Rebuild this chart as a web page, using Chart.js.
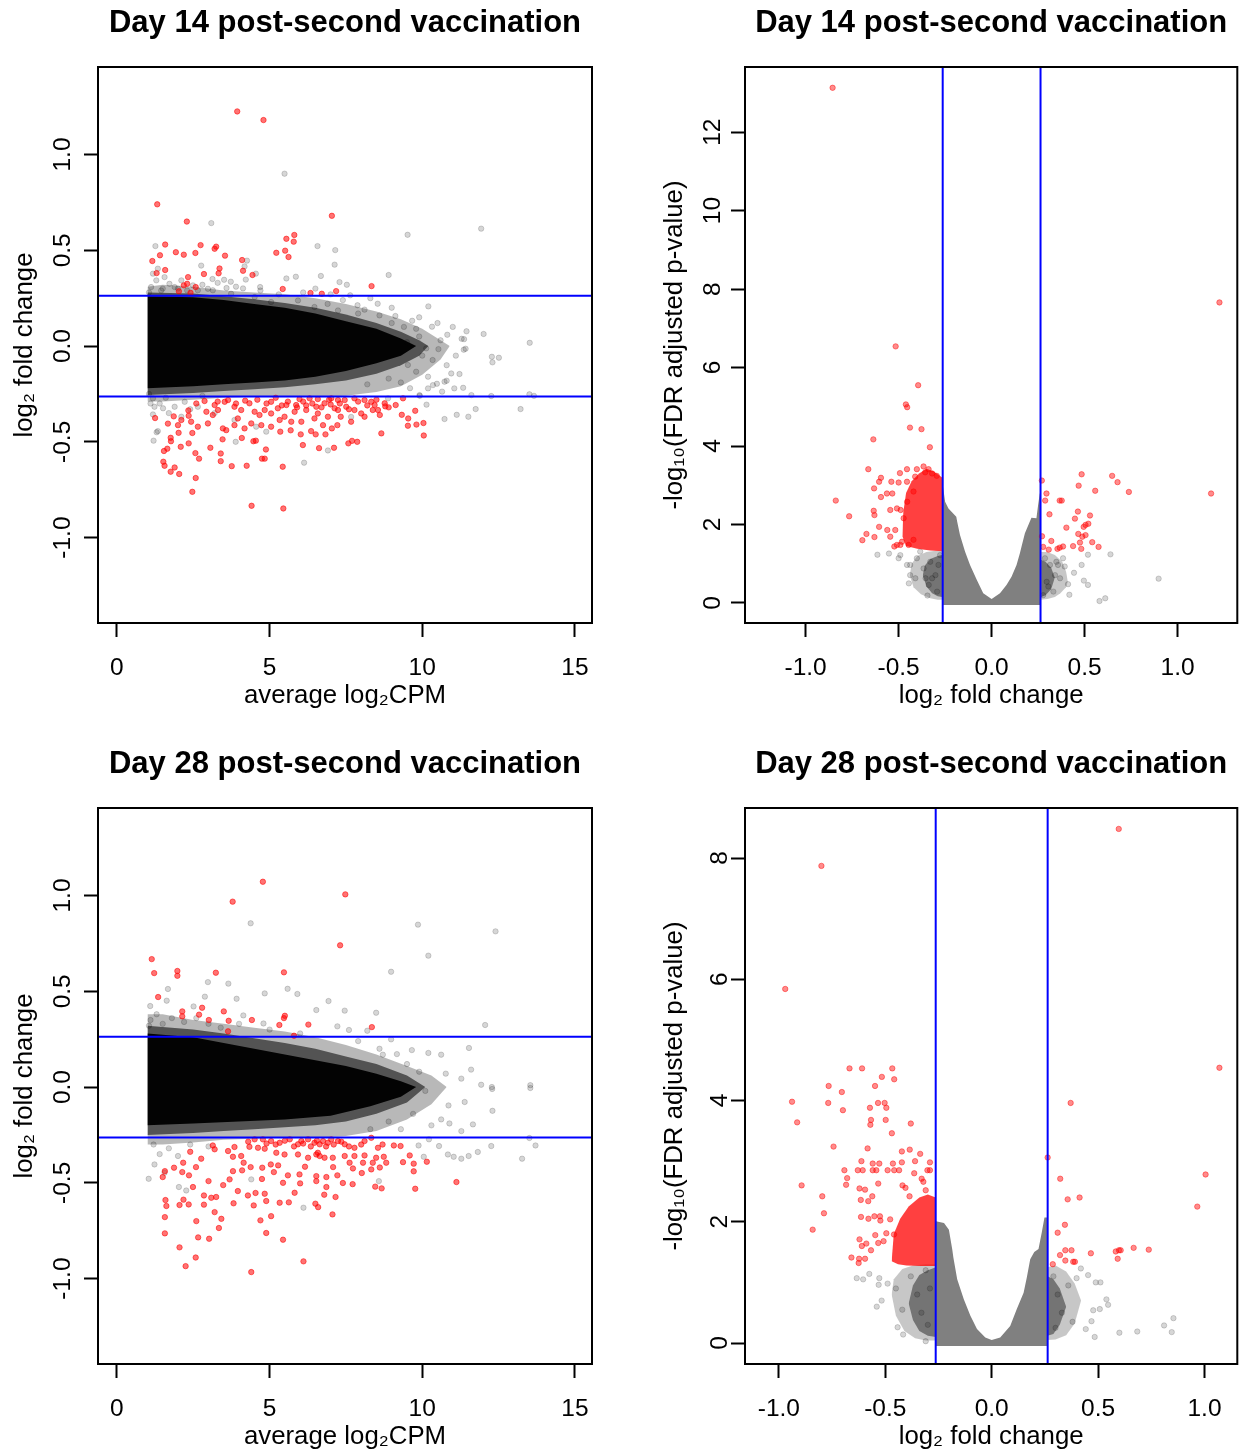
<!DOCTYPE html>
<html><head><meta charset="utf-8">
<script src="https://cdn.jsdelivr.net/npm/chart.js@4.4.0/dist/chart.umd.min.js"></script>
<style>
html,body{margin:0;padding:0;background:#fff;}
body{width:1241px;height:1453px;position:relative;overflow:hidden;}
canvas{position:absolute;}
</style></head>
<body>
<canvas id="c1" width="620" height="741" style="left:0;top:0"></canvas>
<canvas id="c2" width="621" height="741" style="left:620px;top:0"></canvas>
<canvas id="c3" width="620" height="712" style="left:0;top:741px"></canvas>
<canvas id="c4" width="621" height="712" style="left:620px;top:741px"></canvas>
<script>
// ---------- titles, ticks, thresholds ----------
const titleDay14 = 'Day 14 post-second vaccination';
const titleDay28 = 'Day 28 post-second vaccination';
const maXLabel = 'average log\u2082CPM';
const fcLabel = 'log\u2082 fold change';
const fdrLabel = '-log\u2081\u2080(FDR adjusted p-value)';
const maXTicks = [0, 5, 10, 15];
const maYTicks = [-1, -0.5, 0, 0.5, 1];
const volXTicks = [-1, -0.5, 0, 0.5, 1];
const d14VolYTicks = [0, 2, 4, 6, 8, 10, 12];
const d28VolYTicks = [0, 2, 4, 6, 8];
const fcThreshold = 0.263;
const maXRange = [-0.62, 15.56];
const maYRange = [-1.446, 1.457];
const d14VolXRange = [-1.326, 1.321];
const d14VolYRange = [-0.51, 13.66];
const d28VolXRange = [-1.159, 1.154];
const d28VolYRange = [-0.346, 8.825];

// ---------- Day 14 MA plot ----------
const d14MaRed = [[3.94,1.225],[4.80,1.18],[1.32,0.74],[2.29,0.65],[7.04,0.68],[1.58,0.53],[1.93,0.49],[2.19,0.477],[2.57,0.486],[2.74,0.527],[3.20,0.508],[3.25,0.519],[3.54,0.472],[1.41,0.474],[1.16,0.444],[1.58,0.397],[1.30,0.381],[2.33,0.36],[2.30,0.325],[2.19,0.317],[2.58,0.308],[2.03,0.286],[2.41,0.278],[2.85,0.376],[3.33,0.38],[3.36,0.405],[4.10,0.449],[4.13,0.393],[4.44,0.371],[5.22,0.487],[5.51,0.498],[5.62,0.465],[5.55,0.56],[5.81,0.58],[5.79,0.545],[5.43,0.298],[6.34,0.277],[6.71,0.273],[7.18,0.287],[8.34,0.313],
[1.25,-0.376],[1.67,-0.405],[1.86,-0.367],[2.35,-0.364],[2.34,-0.336],[2.47,-0.454],[2.02,-0.453],[1.76,-0.479],[1.77,-0.497],[2.09,-0.526],[2.35,-0.508],[1.65,-0.536],[1.54,-0.548],[1.52,-0.604],[1.56,-0.625],[1.89,-0.634],[1.76,-0.656],[2.04,-0.668],[2.57,-0.559],[2.69,-0.588],[2.58,-0.689],[2.47,-0.761],[4.41,-0.834],[5.45,-0.848],[3.06,-0.531],[3.40,-0.561],[3.40,-0.601],[3.76,-0.627],[4.25,-0.625],[4.75,-0.588],[4.84,-0.588],[4.88,-0.54],[4.55,-0.494],[4.47,-0.497],[4.09,-0.48],[3.46,-0.487],[5.43,-0.63],[6.09,-0.517],[6.62,-0.533],[7.11,-0.531],[7.58,-0.508],[7.87,-0.50],[7.70,-0.495],[8.66,-0.456],[10.05,-0.467],[10.04,-0.402],[9.81,-0.41],[9.53,-0.416],[9.77,-0.338],[9.54,-0.378],[9.33,-0.359],[9.37,-0.273],[9.13,-0.308],[8.79,-0.315],[8.61,-0.36],
[8.38,-0.334],[8.33,-0.291],[8.11,-0.282],[8.00,-0.352],[7.78,-0.334],[7.51,-0.317],[7.33,-0.369],[7.22,-0.413],[7.04,-0.43],[6.83,-0.461],[6.51,-0.461],[6.36,-0.444],[6.02,-0.461],[5.69,-0.44],[5.35,-0.447],[5.05,-0.421],[4.73,-0.413],[4.40,-0.404],[4.18,-0.43],[3.85,-0.413],[3.47,-0.43],[3.14,-0.36],[2.98,-0.404],[2.65,-0.421],[3.20,-0.308],[3.53,-0.291],[3.85,-0.317],[4.07,-0.334],[4.51,-0.343],[4.84,-0.334],[5.05,-0.352],[5.33,-0.386],[5.55,-0.308],[5.87,-0.308],[6.20,-0.334],[6.58,-0.352],[6.80,-0.299],[7.13,-0.325],[7.46,-0.282],[7.78,-0.273],[8.44,-0.308],[8.77,-0.299],
[2.87,-0.287],[3.64,-0.282],[4.34,-0.299],[5.05,-0.291],[5.98,-0.277],[6.31,-0.273],[6.58,-0.277],[7.02,-0.273],[7.24,-0.282],[6.53,-0.317],[5.82,-0.343],[5.49,-0.369],[6.04,-0.395],[6.47,-0.378],[6.91,-0.369],[7.67,-0.395],[8.11,-0.369],[8.55,-0.334],[3.58,-0.439],[3.96,-0.378],[2.93,-0.343],[2.43,-0.395],[2.11,-0.386],[2.00,-0.413],[3.31,-0.334],[4.67,-0.36],[5.27,-0.325],[5.71,-0.395],[7.24,-0.334],[6.75,-0.413],
[4.60,-0.28],[4.90,-0.30],[5.20,-0.27],[5.60,-0.29],[5.90,-0.32],[6.10,-0.29],[6.40,-0.30],[6.70,-0.32],[6.95,-0.28],[7.30,-0.30],[7.60,-0.33],[7.90,-0.29],[8.20,-0.31],[8.50,-0.28],[8.90,-0.32],[4.20,-0.285],[3.90,-0.30],[3.30,-0.29],[2.60,-0.30],[6.20,-0.31],[5.40,-0.31],[7.00,-0.305]];
const d14MaGray = [[5.49,0.90],[3.09,0.642],[9.52,0.581],[11.93,0.613],[6.57,0.522],[7.15,0.501],[7.13,0.425],[1.26,0.522],[4.26,0.446],[2.76,0.42],[5.55,0.353],[5.86,0.362],[6.68,0.366],[7.29,0.334],[7.53,0.32],[8.90,0.371],[4.69,0.308],[4.22,0.347],[4.13,0.301],[3.51,0.346],[3.73,0.336],[3.13,0.35],[3.59,0.303],[4.55,0.378],[4.18,0.416],[7.64,0.265],[8.54,0.221],[10.20,0.207],[7.88,0.213],[8.11,0.19],[9.12,0.157],[9.67,0.132],[10.32,0.101],[10.82,0.059],[11.45,0.077],[12.01,0.063],[13.52,0.017],[11.29,0.038],[11.37,0.036],
[1.12,0.308],[1.29,0.343],[1.56,0.36],[1.72,0.325],[1.89,0.308],[2.11,0.343],[2.49,0.317],[2.65,0.291],[2.98,0.299],[3.14,0.291],[1.34,0.404],[1.18,0.378],[3.74,0.273],[4.51,0.256],[5.05,0.23],[5.93,0.238],[6.47,0.204],[7.24,0.186],
[11.36,-0.019],[11.42,-0.014],[12.28,-0.056],[12.51,-0.061],[12.30,-0.085],[11.22,-0.146],[10.80,-0.181],[11.05,-0.221],[11.34,-0.218],[11.61,-0.256],[12.26,-0.261],[13.51,-0.252],[13.66,-0.26],[13.22,-0.329],[11.75,-0.329],[11.51,-0.369],[11.13,-0.359],[10.73,-0.381],[10.14,-0.306],[9.92,-0.26],[10.48,-0.197],[10.65,-0.238],[10.95,-0.143],[10.34,-0.073],
[6.91,-0.545],[6.13,-0.609],[3.89,-0.50],[1.20,-0.494],[1.30,-0.45],
[1.18,-0.273],[1.23,-0.317],[1.34,-0.444],[1.18,-0.357],[1.51,-0.325],[1.89,-0.317],[2.22,-0.291],[2.65,-0.317],[2.11,-0.369],[3.85,-0.386],[4.56,-0.421],[4.89,-0.447],[7.67,-0.37],[8.88,-0.273],
[10.19,-0.16],[10.35,-0.204],[10.73,-0.186],[9.91,-0.256],[10.19,-0.221],[9.80,-0.134],[9.53,-0.099],[10.53,-0.016],[10.13,-0.012],[10.60,0.03],[9.90,0.05],[10.00,-0.05],[9.50,0.02],[9.40,0.10],[9.80,0.09],
[8.60,0.16],[9.00,0.12],[8.20,-0.20],[8.90,-0.17],[9.30,-0.19],[7.90,0.17],[6.90,0.22],[1.05,0.28],[1.45,0.29],[2.30,0.29],[1.05,-0.25],[1.60,-0.27],[2.80,-0.26],
[1.50,0.30],[2.00,0.30],[2.80,0.32],[3.30,0.33],[3.90,0.31],[4.70,0.29],[5.30,0.27],[6.10,0.28],[6.50,0.30],[7.00,0.27],[7.40,0.24],[8.30,0.25],[9.00,0.20],[9.90,0.15],[10.50,0.12],[11.00,0.10],[10.80,-0.10],[11.10,-0.05],[9.60,-0.22],[1.10,-0.30],[1.40,-0.30],[1.70,-0.35],[2.40,-0.33],[3.20,-0.35]];
const d14MaOuterTop = [[1.0,0.31],[1.5,0.32],[2.5,0.31],[3.5,0.29],[4.5,0.28],[5.5,0.27],[6.5,0.25],[7.5,0.22],[8.5,0.18],[9.3,0.14],[10.0,0.09],[10.6,0.03],[10.9,0.0]];
const d14MaOuterBot = [[1.0,-0.29],[1.5,-0.29],[2.5,-0.28],[3.5,-0.27],[4.5,-0.265],[5.5,-0.265],[6.5,-0.265],[7.5,-0.26],[8.5,-0.24],[9.3,-0.21],[10.0,-0.15],[10.6,-0.07],[10.9,0.0]];
const d14MaMidTop = [[1.0,0.28],[2.5,0.275],[3.5,0.26],[4.5,0.245],[5.5,0.225],[6.5,0.2],[7.5,0.165],[8.5,0.12],[9.3,0.075],[9.9,0.03],[10.2,0.0]];
const d14MaMidBot = [[1.0,-0.255],[2.5,-0.245],[3.5,-0.235],[4.5,-0.225],[5.5,-0.215],[6.5,-0.2],[7.5,-0.18],[8.5,-0.145],[9.3,-0.1],[9.9,-0.05],[10.2,0.0]];
const d14MaCoreTop = [[1.0,0.26],[2.5,0.255],[3.5,0.24],[4.5,0.22],[5.5,0.2],[6.5,0.17],[7.5,0.13],[8.5,0.09],[9.3,0.04],[9.8,0.0]];
const d14MaCoreBot = [[1.0,-0.22],[2.5,-0.21],[3.5,-0.2],[4.5,-0.19],[5.5,-0.18],[6.5,-0.16],[7.5,-0.13],[8.5,-0.09],[9.3,-0.05],[9.8,0.0]];

// ---------- Day 28 MA plot ----------
const d28MaRed = [[4.78,1.072],[3.79,0.968],[7.48,1.006],[7.31,0.74],[1.14,0.668],[1.22,0.595],[1.98,0.606],[1.98,0.581],[3.24,0.597],[5.47,0.599],[1.35,0.47],[2.79,0.414],[2.69,0.378],[2.14,0.395],[2.14,0.369],[3.01,0.35],[3.50,0.395],[3.66,0.346],[3.64,0.291],[4.42,0.35],[5.32,0.324],[5.47,0.36],[5.50,0.372],[6.27,0.326],[8.35,0.313],[5.80,0.268],
[11.12,-0.496],[9.77,-0.531],[10.15,-0.39],[9.72,-0.44],[9.72,-0.40],[9.59,-0.357],[9.37,-0.392],[9.29,-0.308],[9.07,-0.305],[8.82,-0.395],[8.67,-0.529],[8.46,-0.52],[8.61,-0.42],[8.33,-0.43],[8.02,-0.449],[7.73,-0.425],[7.72,-0.507],[7.40,-0.501],[7.06,-0.665],[7.16,-0.574],[6.86,-0.522],[6.79,-0.562],[6.53,-0.491],[6.59,-0.627],[6.50,-0.609],[6.11,-0.91],[4.40,-0.966],[5.44,-0.797],[4.89,-0.762],[5.05,-0.674],[4.70,-0.696],[5.33,-0.604],[5.63,-0.602],[5.82,-0.552],[5.44,-0.50],[6.00,-0.503],[4.89,-0.595],[4.48,-0.618],[4.54,-0.553],[4.84,-0.557],[4.29,-0.566],[3.96,-0.543],[3.82,-0.607],[3.42,-0.688],[3.34,-0.736],[3.20,-0.653],[3.25,-0.574],[3.09,-0.578],[2.85,-0.566],[2.85,-0.614],[3.02,-0.792],[2.66,-0.785],[2.60,-0.70],[2.58,-0.89],[2.25,-0.935],[2.05,-0.837],[1.57,-0.764],[1.57,-0.679],[1.62,-0.621],[1.59,-0.59],[2.05,-0.616],[2.18,-0.588],[2.35,-0.613],[2.49,-0.522],[1.50,-0.47],[1.57,-0.439],[1.87,-0.421],[2.14,-0.444],[2.36,-0.461],[2.17,-0.395],[2.59,-0.418],[2.76,-0.374],[2.40,-0.338],[3.00,-0.491],[3.48,-0.512],[3.69,-0.482],[3.80,-0.439],[4.10,-0.435],[4.15,-0.395],[4.38,-0.418],[4.75,-0.48],[4.76,-0.421],[5.04,-0.404],[5.14,-0.444],[5.28,-0.409],[5.60,-0.461],[5.98,-0.456],[6.16,-0.416],[6.53,-0.465],[6.86,-0.47],[7.08,-0.418],[7.22,-0.461],[7.62,-0.395],[8.06,-0.395],[8.38,-0.395],[8.49,-0.369],[8.74,-0.364],[8.11,-0.357],[7.78,-0.36],[7.46,-0.36],[7.07,-0.369],[6.80,-0.369],[6.53,-0.352],[6.26,-0.369],[5.93,-0.352],[5.49,-0.352],[5.22,-0.343],[4.84,-0.322],[4.62,-0.317],[4.34,-0.312],[4.07,-0.36],[3.80,-0.364],[3.64,-0.334],[3.20,-0.325],[3.14,-0.305],[3.85,-0.313],[4.51,-0.273],[4.78,-0.273],[5.05,-0.282],[5.33,-0.291],[5.66,-0.273],[5.93,-0.299],[6.04,-0.282],[6.26,-0.273],[6.47,-0.291],[6.64,-0.299],[6.75,-0.282],[6.91,-0.291],[7.02,-0.273],[7.24,-0.282],[7.46,-0.299],[7.78,-0.317],[8.11,-0.282],[8.33,-0.265],[8.55,-0.317],[6.58,-0.343],[6.64,-0.36],
[5.20,-0.30],[5.50,-0.28],[5.80,-0.31],[6.10,-0.295],[6.35,-0.31],[6.55,-0.28],[6.85,-0.31],[7.10,-0.30],[7.35,-0.285],[7.60,-0.31],[4.30,-0.285],[4.90,-0.295],[8.00,-0.30],[8.70,-0.30]];
const d28MaGray = [[4.38,0.855],[9.86,0.848],[12.40,0.813],[10.20,0.686],[8.98,0.602],[12.06,0.324],[1.67,0.512],[2.98,0.548],[3.65,0.54],[3.92,0.461],[4.84,0.489],[5.59,0.513],[5.91,0.486],[6.93,0.449],[7.46,0.399],[6.53,0.402],[8.49,0.388],[7.22,0.317],[7.60,0.298],[8.20,0.294],[4.80,0.332],[4.14,0.374],[1.09,0.423],[1.63,0.451],[2.88,0.472],[2.51,0.421],[8.98,0.249],[9.66,0.193],[10.20,0.178],[10.62,0.169],[11.53,0.204],[11.60,0.091],[10.77,0.07],[11.28,0.044],[11.93,0.012],[13.54,0.01],[12.28,0.0],[9.17,0.172],[8.71,0.169],
[13.54,-0.005],[12.29,-0.01],[11.39,-0.078],[10.86,-0.096],[12.30,-0.124],[11.66,-0.195],[11.28,-0.23],[10.89,-0.19],[10.62,-0.169],[13.51,-0.266],[13.71,-0.305],[12.26,-0.308],[13.27,-0.374],[11.82,-0.339],[11.52,-0.36],[11.28,-0.374],[11.03,-0.364],[10.84,-0.352],[10.55,-0.308],[10.22,-0.273],[9.88,-0.305],[10.05,-0.364],[8.58,-0.491],[6.11,-0.63],[4.40,-0.482],[2.03,-0.522],[1.04,-0.479],[1.23,-0.404],[1.56,-0.447],[2.27,-0.54],
[1.10,0.35],[1.30,0.38],[1.50,0.33],[1.80,0.36],[2.20,0.34],[2.60,0.36],[3.00,0.33],[3.40,0.31],[1.20,-0.30],[1.40,-0.35],[1.70,-0.32],[2.00,-0.36],[2.40,-0.30],[3.00,-0.31],[9.50,0.12],[9.90,0.08],[10.10,-0.02],[9.70,-0.14],[10.30,-0.20],[9.30,-0.22],
[8.60,0.20],[7.90,0.24],[8.90,-0.18],[8.30,-0.22],[1.05,0.32],[4.0,0.33],[5.0,0.30],[6.0,0.28]];
const d28MaOuterTop = [[1.0,0.38],[1.5,0.38],[2.5,0.35],[3.5,0.33],[4.5,0.31],[5.5,0.29],[6.5,0.26],[7.5,0.22],[8.5,0.17],[9.5,0.11],[10.3,0.06],[10.8,0.0]];
const d28MaOuterBot = [[1.0,-0.30],[1.5,-0.30],[2.5,-0.29],[3.5,-0.275],[4.5,-0.27],[5.5,-0.265],[6.5,-0.265],[7.5,-0.255],[8.5,-0.23],[9.5,-0.17],[10.3,-0.09],[10.8,0.0]];
const d28MaMidTop = [[1.0,0.32],[2.5,0.30],[3.5,0.28],[4.5,0.255],[5.5,0.23],[6.5,0.2],[7.5,0.16],[8.5,0.12],[9.5,0.06],[10.1,0.0]];
const d28MaMidBot = [[1.0,-0.25],[2.5,-0.24],[3.5,-0.23],[4.5,-0.22],[5.5,-0.21],[6.5,-0.2],[7.5,-0.18],[8.5,-0.14],[9.5,-0.08],[10.1,0.0]];
const d28MaCoreTop = [[1.0,0.28],[2.5,0.26],[3.5,0.23],[4.5,0.20],[5.5,0.17],[6.5,0.14],[7.5,0.11],[8.5,0.07],[9.3,0.03],[9.8,0.0]];
const d28MaCoreBot = [[1.0,-0.20],[2.5,-0.19],[4.0,-0.18],[5.5,-0.17],[7.0,-0.15],[8.3,-0.10],[9.3,-0.05],[9.8,0.0]];

// ---------- Day 14 volcano ----------
const d14VolRed = [[-0.855,13.13],[1.225,7.66],[-0.516,6.54],[-0.395,5.55],[-0.461,5.06],[-0.454,4.99],[-0.439,4.47],[-0.377,4.43],[-0.636,4.17],[-0.332,3.97],[-0.663,3.41],[-0.838,2.61],[-0.766,2.21],[-0.695,1.60],[-0.673,1.76],[-0.630,1.68],[-0.605,1.94],[-0.561,1.86],[-0.634,2.35],[-0.630,2.24],[-0.632,2.92],[-0.605,3.09],[-0.595,3.19],[-0.539,3.09],[-0.595,2.70],[-0.563,2.79],[-0.534,2.79],[-0.500,3.07],[-0.493,3.31],[-0.455,3.41],[-0.402,3.41],[-0.366,3.48],[-0.320,3.30],[-0.295,3.24],[-0.545,2.37],[-0.509,2.41],[-0.523,1.44],[-0.491,1.48],
[-0.489,2.37],[-0.473,2.16],[-0.518,1.86],[-0.545,1.69],[-0.509,1.48],[-0.482,1.56],[-0.446,1.48],[-0.420,1.61],[-0.454,2.58],[-0.420,2.84],[-0.455,3.09],[-0.411,3.22],[-0.357,3.33],[-0.339,3.41],
[0.270,3.12],[0.295,2.79],[0.288,2.61],[0.311,2.26],[0.366,2.61],[0.377,2.61],[0.484,3.28],[0.468,2.99],[0.557,2.86],[0.648,3.24],[0.677,3.08],[0.738,2.83],[1.180,2.79],[0.464,2.33],[0.448,2.15],[0.529,2.23],[0.520,2.02],[0.505,1.99],[0.495,1.94],[0.402,1.92],[0.466,1.76],[0.505,1.73],[0.488,1.69],[0.475,1.54],[0.541,1.55],[0.575,1.43],[0.482,1.38],[0.438,1.45],[0.384,1.44],[0.366,1.41],[0.354,1.38],[0.321,1.58],[0.307,1.36],[0.277,1.43],[0.271,1.70]];
const d14VolGray = [[-0.614,1.23],[-0.552,1.26],[-0.500,1.14],[-0.445,0.50],[-0.438,0.71],[-0.345,0.19],[-0.410,0.63],[0.518,1.23],[0.639,1.24],[0.484,0.97],[0.443,0.77],[0.496,0.57],[0.518,0.46],[0.580,0.05],[0.611,0.12],[0.898,0.62],[0.418,0.21],[0.411,0.48],[0.393,0.93],[0.348,1.05],[-0.455,0.97],[-0.491,1.22],
[-0.438,0.97],[-0.402,1.14],[-0.366,0.88],[-0.330,1.05],[-0.302,0.71],[-0.338,0.46],[-0.293,0.29],[-0.320,0.63],[-0.355,0.63],[-0.277,1.22],[-0.384,1.31],[-0.286,0.97],[0.287,1.14],[0.314,0.97],[0.341,0.71],[0.296,0.54],[0.368,0.63],[0.332,0.29],[0.384,1.14],[0.357,0.97],[0.277,0.20],[0.305,0.42]];
const d14VolU = [[-0.264,-0.05],[-0.264,3.05],[-0.250,2.58],[-0.232,2.41],[-0.190,2.20],[-0.185,2.07],[-0.170,1.73],[-0.143,1.31],[-0.116,0.97],[-0.080,0.59],[-0.045,0.25],[0.000,0.10],[0.045,0.25],[0.080,0.46],[0.107,0.67],[0.134,0.97],[0.152,1.27],[0.161,1.44],[0.179,1.78],[0.214,2.17],[0.241,2.16],[0.250,2.50],[0.259,2.79],[0.264,2.80],[0.264,-0.05]];
const d14VolRedTop = [[-0.480,1.70],[-0.475,2.30],[-0.460,2.80],[-0.430,3.10],[-0.390,3.30],[-0.350,3.42],[-0.310,3.35],[-0.266,3.20]];
const d14VolRedBot = [[-0.480,1.70],[-0.460,1.45],[-0.400,1.38],[-0.330,1.34],[-0.266,1.32]];
const d14VolDarkLOuterTop = [[-0.44,0.70],[-0.43,1.00],[-0.40,1.20],[-0.35,1.30],[-0.30,1.33],[-0.266,1.33]];
const d14VolDarkLOuterBot = [[-0.44,0.70],[-0.42,0.40],[-0.38,0.22],[-0.33,0.12],[-0.29,0.08],[-0.266,0.08]];
const d14VolDarkLInnerTop = [[-0.37,0.70],[-0.36,0.95],[-0.33,1.12],[-0.29,1.20],[-0.266,1.22]];
const d14VolDarkLInnerBot = [[-0.37,0.70],[-0.35,0.42],[-0.32,0.25],[-0.29,0.17],[-0.266,0.15]];
const d14VolDarkROuterTop = [[0.266,1.30],[0.30,1.30],[0.34,1.22],[0.38,1.05],[0.40,0.80],[0.41,0.55]];
const d14VolDarkROuterBot = [[0.266,0.08],[0.30,0.10],[0.34,0.15],[0.37,0.25],[0.40,0.40],[0.41,0.55]];
const d14VolDarkRInnerTop = [[0.266,1.10],[0.29,1.05],[0.32,0.90],[0.34,0.65]];
const d14VolDarkRInnerBot = [[0.266,0.15],[0.29,0.20],[0.32,0.35],[0.34,0.65]];

// ---------- Day 28 volcano ----------
const d28VolRed = [[0.597,8.48],[-0.800,7.87],[-0.970,5.84],[1.070,4.54],[-0.668,4.53],[-0.609,4.53],[-0.467,4.53],[-0.516,4.39],[-0.458,4.35],[-0.766,4.24],[-0.548,4.24],
[-0.938,3.98],[-0.914,3.64],[-0.768,3.96],[-0.704,4.14],[-0.699,3.84],[-0.572,3.88],[-0.534,3.96],[-0.503,3.96],[-0.495,3.88],[-0.567,3.68],[-0.570,3.60],[-0.498,3.68],[-0.380,3.62],[-0.469,3.46],[-0.743,3.24],[-0.583,3.21],[-0.893,2.60],[-0.796,2.42],[-0.788,2.14],[-0.841,1.87],[-0.659,1.41],[-0.625,1.32],[-0.422,3.16],[-0.385,3.19],[-0.336,3.12],[-0.612,3.00],[-0.559,2.96],[-0.528,2.96],[-0.464,2.96],[-0.422,2.98],[-0.290,2.98],[-0.360,3.00],[-0.692,2.85],[-0.629,2.85],[-0.606,2.85],[-0.559,2.85],[-0.542,2.85],[-0.489,2.85],[-0.458,2.85],[-0.435,2.85],[-0.302,2.85],[-0.290,2.85],[-0.364,2.80],[-0.679,2.72],[-0.684,2.61],[-0.533,2.63],[-0.621,2.55],[-0.595,2.53],[-0.561,2.42],[-0.580,2.34],[-0.615,2.36],[-0.419,2.60],[-0.405,2.56],[-0.329,2.71],[-0.321,2.66],[-0.310,2.52],[-0.386,2.42],[-0.614,2.08],[-0.579,2.05],[-0.551,2.09],[-0.525,2.09],[-0.523,2.02],[-0.477,2.04],[-0.621,1.71],[-0.610,1.60],[-0.589,1.64],[-0.567,1.53],[-0.547,1.78],[-0.533,1.65],[-0.508,1.68],[-0.495,1.81],[-0.459,1.79],[-0.623,1.39],[-0.595,1.39],
[0.263,3.06],[0.371,3.96],[1.005,2.78],[0.966,2.25],[0.322,2.71],[0.357,2.37],[0.413,2.40],[0.344,1.95],[0.310,1.82],[0.346,1.53],[0.375,1.53],[0.321,1.45],[0.346,1.36],[0.383,1.34],[0.391,1.34],[0.287,1.30],[0.466,1.48],[0.583,1.51],[0.598,1.53],[0.606,1.53],[0.592,1.39],[0.667,1.57],[0.738,1.54]];
const d28VolGray = [[-0.634,1.07],[-0.604,1.05],[-0.575,1.14],[-0.528,1.07],[-0.531,0.96],[-0.489,0.98],[-0.517,0.70],[-0.540,0.60],[-0.442,0.26],[-0.416,0.14],[-0.310,0.03],[0.453,1.12],[0.489,1.00],[0.511,1.00],[0.539,0.72],[0.547,0.63],[0.508,0.56],[0.477,0.54],[0.469,0.36],[0.442,0.23],[0.484,0.10],[0.600,0.17],[0.684,0.19],[0.810,0.29],[0.854,0.41],[0.846,0.18],[0.419,1.23],[0.399,1.07],
[-0.45,0.90],[-0.42,0.55],[-0.38,1.10],[-0.35,0.80],[-0.33,0.50],[-0.30,0.30],[-0.29,0.90],[-0.31,1.20],[0.29,1.10],[0.31,0.80],[0.33,0.50],[0.36,0.95],[0.38,0.35],[0.30,0.25]];
const d28VolU = [[-0.262,-0.05],[-0.262,2.01],[-0.224,1.98],[-0.201,1.87],[-0.185,1.54],[-0.180,1.41],[-0.162,1.05],[-0.131,0.72],[-0.100,0.45],[-0.069,0.23],[-0.030,0.09],[0.000,0.05],[0.040,0.09],[0.087,0.28],[0.118,0.56],[0.150,0.83],[0.165,1.08],[0.181,1.38],[0.200,1.50],[0.220,1.55],[0.235,1.82],[0.248,2.07],[0.262,2.07],[0.262,-0.05]];
const d28VolRedTop = [[-0.470,1.35],[-0.460,1.80],[-0.430,2.05],[-0.390,2.25],[-0.340,2.40],[-0.300,2.45],[-0.263,2.40]];
const d28VolRedBot = [[-0.470,1.35],[-0.440,1.30],[-0.400,1.28],[-0.330,1.27],[-0.263,1.27]];
const d28VolDarkLOuterTop = [[-0.47,0.80],[-0.46,1.05],[-0.42,1.22],[-0.37,1.28],[-0.31,1.30],[-0.262,1.30]];
const d28VolDarkLOuterBot = [[-0.47,0.80],[-0.45,0.45],[-0.41,0.20],[-0.36,0.08],[-0.31,0.04],[-0.262,0.04]];
const d28VolDarkLInnerTop = [[-0.39,0.65],[-0.37,0.95],[-0.34,1.12],[-0.30,1.20],[-0.262,1.25]];
const d28VolDarkLInnerBot = [[-0.39,0.65],[-0.37,0.38],[-0.34,0.20],[-0.30,0.12],[-0.262,0.10]];
const d28VolDarkROuterTop = [[0.262,1.25],[0.30,1.28],[0.35,1.18],[0.39,0.98],[0.42,0.70]];
const d28VolDarkROuterBot = [[0.262,0.05],[0.30,0.06],[0.35,0.13],[0.39,0.32],[0.42,0.70]];
const d28VolDarkRInnerTop = [[0.262,1.10],[0.29,1.05],[0.32,0.90],[0.35,0.60]];
const d28VolDarkRInnerBot = [[0.262,0.12],[0.29,0.15],[0.32,0.30],[0.35,0.60]];

// ---------- styling ----------
const FONT = "'Liberation Sans', Arial, Helvetica, sans-serif";
Chart.defaults.font.family = FONT;
Chart.defaults.color = '#000';
const RED_MA = 'rgba(255,0,0,0.55)';
const RED_VOL = 'rgba(255,0,0,0.45)';
const GRAY_PT = 'rgba(0,0,0,0.16)';
const BLUE = '#0000ff';
const AXIS_TITLE_SIZE = 25.8;

function pts(data, color, order) {
  return {data, backgroundColor: color, borderColor: color, borderWidth: 1, pointRadius: 2.7, pointHoverRadius: 2.7, order};
}
function band(top, bot, color, order) {
  return [
    {data: top, showLine: true, fill: '+1', backgroundColor: color, borderColor: 'rgba(0,0,0,0)', borderWidth: 0, pointRadius: 0, tension: 0, order},
    {data: bot, showLine: true, fill: false, backgroundColor: 'rgba(0,0,0,0)', borderColor: 'rgba(0,0,0,0)', borderWidth: 0, pointRadius: 0, tension: 0, order}
  ];
}
function area(data, color, base, order) {
  return {data, showLine: true, fill: {value: base}, backgroundColor: color, borderColor: 'rgba(0,0,0,0)', borderWidth: 0, pointRadius: 0, tension: 0, order};
}
function hline(y, xr, order) {
  return {data: [[xr[0] - 5, y], [xr[1] + 5, y]], showLine: true, fill: false, borderColor: BLUE, borderWidth: 2, pointRadius: 0, order};
}
function vline(x, yr, order) {
  return {data: [[x, yr[0] - 5], [x, yr[1] + 5]], showLine: true, fill: false, borderColor: BLUE, borderWidth: 2, pointRadius: 0, order};
}

const boxPlugin = {
  id: 'rbox',
  afterDraw(chart) {
    const {ctx, chartArea: a} = chart;
    ctx.save();
    ctx.strokeStyle = '#000';
    ctx.lineWidth = 2;
    ctx.strokeRect(a.left, a.top, a.right - a.left, a.bottom - a.top);
    ctx.restore();
  }
};

function makePanel(id, p) {
  const canvas = document.getElementById(id);
  const W = canvas.width, H = canvas.height;
  const AREA_BOTTOM = 623;
  const tickFont = {size: 24.5, family: FONT};
  const half = AXIS_TITLE_SIZE * 1.2 / 2;
  const gridCfg = {display: true, drawOnChartArea: false, drawTicks: true, tickLength: 14, tickWidth: 2, tickColor: '#000', color: '#000'};
  return new Chart(canvas, {
    type: 'scatter',
    data: {datasets: p.datasets},
    options: {
      responsive: false, animation: false, devicePixelRatio: 1, events: [],
      layout: {padding: {left: 0, right: W - p.right, top: 0, bottom: 0}},
      plugins: {
        legend: {display: false}, tooltip: {enabled: false},
        title: {display: true, text: p.title, fullSize: false, color: '#000',
                font: {size: 31, weight: 'bold', family: FONT}, padding: {top: 4.4, bottom: 25.4}}
      },
      scales: {
        x: {
          type: 'linear', position: 'bottom', min: p.xr[0], max: p.xr[1],
          afterBuildTicks: s => { s.ticks = p.xTicks.map(v => ({value: v})); },
          afterFit: s => { s.height = H - AREA_BOTTOM; },
          grid: gridCfg, border: {display: false},
          ticks: {autoSkip: false, maxRotation: 0, minRotation: 0, padding: 17, font: tickFont, color: '#000', callback: p.xFmt},
          title: {display: true, text: p.xTitle, color: '#000', font: {size: AXIS_TITLE_SIZE, family: FONT}, padding: {top: 0, bottom: H - 696 - half}}
        },
        y: {
          type: 'linear', position: 'left', min: p.yr[0], max: p.yr[1],
          afterBuildTicks: s => { s.ticks = p.yTicks.map(v => ({value: v})); },
          afterFit: s => { s.width = p.left; },
          grid: gridCfg, border: {display: false},
          ticks: {autoSkip: false, minRotation: 90, maxRotation: 90, crossAlign: 'center', padding: p.yPad, font: tickFont, color: '#000', callback: p.yFmt},
          title: {display: true, text: p.yTitle, color: '#000', font: {size: AXIS_TITLE_SIZE, family: FONT}, padding: {top: p.yTitleX - half, bottom: 0}}
        }
      }
    },
    plugins: [boxPlugin]
  });
}

const fmt1 = v => v.toFixed(1);
const fmt0 = v => String(v);

function maDatasets(red, gray, oT, oB, mT, mB, cT, cB) {
  return [
    hline(fcThreshold, maXRange, 0),
    hline(-fcThreshold, maXRange, 0),
    pts(red, RED_MA, 1),
    pts(gray, GRAY_PT, 2),
    ...band(cT, cB, 'rgba(0,0,0,0.96)', 3),
    ...band(mT, mB, 'rgba(0,0,0,0.55)', 4),
    ...band(oT, oB, 'rgba(0,0,0,0.28)', 5)
  ];
}
function volDatasets(red, gray, u, rT, rB, lOT, lOB, lIT, lIB, rOT, rOB, rIT, rIB, yr) {
  return [
    vline(-fcThreshold, yr, 0),
    vline(fcThreshold, yr, 0),
    pts(red, RED_VOL, 1),
    ...band(rT, rB, 'rgba(255,0,0,0.75)', 2),
    pts(gray, GRAY_PT, 3),
    area(u, 'rgb(128,128,128)', -0.05, 4),
    ...band(lIT, lIB, 'rgba(0,0,0,0.42)', 5),
    ...band(rIT, rIB, 'rgba(0,0,0,0.42)', 5),
    ...band(lOT, lOB, 'rgba(0,0,0,0.22)', 6),
    ...band(rOT, rOB, 'rgba(0,0,0,0.22)', 6)
  ];
}

makePanel('c1', {
  title: titleDay14, left: 98, right: 592,
  xr: maXRange, yr: maYRange, xTicks: maXTicks, yTicks: maYTicks, xFmt: fmt0, yFmt: fmt1,
  xTitle: maXLabel, yTitle: fcLabel, yTitleX: 25, yPad: 0,
  datasets: maDatasets(d14MaRed, d14MaGray, d14MaOuterTop, d14MaOuterBot, d14MaMidTop, d14MaMidBot, d14MaCoreTop, d14MaCoreBot)
});
makePanel('c3', {
  title: titleDay28, left: 98, right: 592,
  xr: maXRange, yr: maYRange, xTicks: maXTicks, yTicks: maYTicks, xFmt: fmt0, yFmt: fmt1,
  xTitle: maXLabel, yTitle: fcLabel, yTitleX: 25, yPad: 0,
  datasets: maDatasets(d28MaRed, d28MaGray, d28MaOuterTop, d28MaOuterBot, d28MaMidTop, d28MaMidBot, d28MaCoreTop, d28MaCoreBot)
});
makePanel('c2', {
  title: titleDay14, left: 125, right: 620,
  xr: d14VolXRange, yr: d14VolYRange, xTicks: volXTicks, yTicks: d14VolYTicks, xFmt: fmt1, yFmt: fmt0,
  xTitle: fcLabel, yTitle: fdrLabel, yTitleX: 55, yPad: 4,
  datasets: volDatasets(d14VolRed, d14VolGray, d14VolU, d14VolRedTop, d14VolRedBot,
    d14VolDarkLOuterTop, d14VolDarkLOuterBot, d14VolDarkLInnerTop, d14VolDarkLInnerBot,
    d14VolDarkROuterTop, d14VolDarkROuterBot, d14VolDarkRInnerTop, d14VolDarkRInnerBot, d14VolYRange)
});
makePanel('c4', {
  title: titleDay28, left: 125, right: 620,
  xr: d28VolXRange, yr: d28VolYRange, xTicks: volXTicks, yTicks: d28VolYTicks, xFmt: fmt1, yFmt: fmt0,
  xTitle: fcLabel, yTitle: fdrLabel, yTitleX: 55, yPad: 4,
  datasets: volDatasets(d28VolRed, d28VolGray, d28VolU, d28VolRedTop, d28VolRedBot,
    d28VolDarkLOuterTop, d28VolDarkLOuterBot, d28VolDarkLInnerTop, d28VolDarkLInnerBot,
    d28VolDarkROuterTop, d28VolDarkROuterBot, d28VolDarkRInnerTop, d28VolDarkRInnerBot, d28VolYRange)
});
</script>
</body></html>
